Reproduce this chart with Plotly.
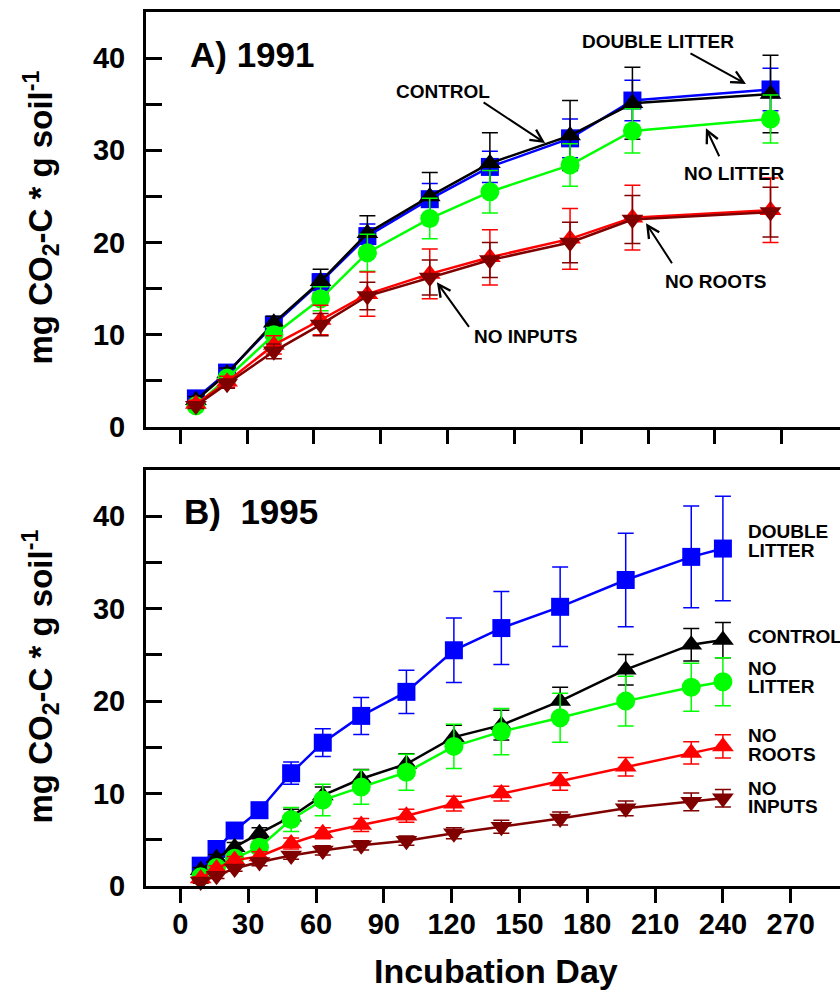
import plotly.graph_objects as go

FONT = "Liberation Sans, Arial, Helvetica, sans-serif"

# ---- A) 1991 incubation: cumulative CO2-C (mg per g soil) ----
days_1991 = [7, 21, 42, 63, 84, 112, 139, 175, 203, 265]
double_litter_1991 = [3.1, 5.9, 11.1, 15.7, 20.7, 24.7, 28.2, 31.3, 35.4, 36.6]
double_litter_1991_err = [0.4, 0.5, 0.6, 0.9, 1.3, 1.7, 1.7, 2.1, 2.2, 2.3]
control_1991 = [2.9, 5.8, 11.3, 15.8, 21.0, 25.0, 28.6, 31.6, 35.1, 36.1]
control_1991_err = [0.4, 0.6, 0.7, 1.3, 1.9, 2.6, 3.3, 3.8, 3.9, 4.2]
no_litter_1991 = [2.3, 5.3, 10.0, 13.9, 18.9, 22.6, 25.5, 28.4, 32.1, 33.4]
no_litter_1991_err = [0.4, 0.5, 0.8, 1.3, 2.0, 2.2, 2.3, 2.3, 2.4, 2.6]
no_roots_1991 = [2.5, 4.9, 8.9, 11.6, 14.4, 16.6, 18.4, 20.4, 22.7, 23.5]
no_roots_1991_err = [0.4, 0.6, 1.0, 1.6, 2.4, 2.7, 3.0, 3.3, 3.5, 3.5]
no_inputs_1991 = [2.3, 4.7, 8.2, 11.1, 14.2, 16.2, 18.1, 20.0, 22.5, 23.3]
no_inputs_1991_err = [0.3, 0.5, 0.8, 1.2, 1.5, 1.9, 1.9, 2.2, 2.6, 2.7]

# ---- B) 1995 incubation ----
days_1995 = [9, 16, 24, 35, 49, 63, 80, 100, 121, 142, 168, 197, 226, 240]
double_litter_1995 = [2.2, 4.0, 6.0, 8.2, 12.2, 15.5, 18.4, 21.0, 25.5, 27.9, 30.2, 33.1, 35.6, 36.5]
double_litter_1995_err = [0.5, 0.6, 0.7, 0.8, 1.2, 1.5, 2.0, 2.35, 3.5, 3.95, 4.3, 5.05, 5.5, 5.65]
control_1995 = [1.7, 3.0, 4.2, 5.7, 7.5, 9.8, 11.6, 13.2, 16.1, 17.4, 20.0, 23.4, 26.1, 26.6]
control_1995_err = [0.3, 0.4, 0.5, 0.6, 0.8, 0.9, 1.0, 1.1, 1.3, 1.6, 1.5, 1.65, 1.75, 1.9]
no_litter_1995 = [1.0, 2.0, 3.0, 4.2, 7.2, 9.3, 10.7, 12.3, 15.1, 16.7, 18.2, 20.0, 21.5, 22.1]
no_litter_1995_err = [0.3, 0.4, 0.5, 0.6, 1.3, 1.7, 1.85, 1.95, 2.4, 2.5, 2.65, 2.7, 2.6, 2.6]
no_roots_1995 = [0.8, 1.9, 2.8, 3.2, 4.6, 5.7, 6.6, 7.6, 8.9, 10.0, 11.3, 12.9, 14.4, 15.1]
no_roots_1995_err = [0.2, 0.3, 0.4, 0.5, 0.6, 0.6, 0.7, 0.7, 0.8, 0.8, 0.95, 1.0, 1.2, 1.25]
no_inputs_1995 = [0.5, 1.1, 1.9, 2.6, 3.3, 3.85, 4.4, 4.9, 5.7, 6.4, 7.3, 8.4, 9.1, 9.5]
no_inputs_1995_err = [0.2, 0.3, 0.3, 0.4, 0.4, 0.5, 0.5, 0.5, 0.6, 0.7, 0.7, 0.8, 0.95, 0.95]

day_ticks = list(range(0, 271, 30))

BLUE = "#0000ff"
BLACK = "#000000"
GREEN = "#00ff00"
RED = "#ff0000"
DARKRED = "#800000"

treatments = [
    # name, colour, symbol, marker size
    ("Double litter", BLUE, "square", 18),
    ("Control", BLACK, "triangle-up", 19),
    ("No litter", GREEN, "circle", 19),
    ("No roots", RED, "triangle-up", 19),
    ("No inputs", DARKRED, "triangle-down", 19),
]

panels = [
    ("x", "y", days_1991,
     [(double_litter_1991, double_litter_1991_err), (control_1991, control_1991_err),
      (no_litter_1991, no_litter_1991_err), (no_roots_1991, no_roots_1991_err),
      (no_inputs_1991, no_inputs_1991_err)]),
    ("x2", "y2", days_1995,
     [(double_litter_1995, double_litter_1995_err), (control_1995, control_1995_err),
      (no_litter_1995, no_litter_1995_err), (no_roots_1995, no_roots_1995_err),
      (no_inputs_1995, no_inputs_1995_err)]),
]

fig = go.Figure()
for xa, ya, days, series in panels:
    for (name, color, symbol, size), (vals, errs) in zip(treatments, series):
        fig.add_trace(go.Scatter(
            x=days, y=vals, xaxis=xa, yaxis=ya, name=name,
            mode="lines+markers", cliponaxis=False, showlegend=False,
            line=dict(color=color, width=2.5),
            marker=dict(color=color, symbol=symbol, size=size, line=dict(width=0)),
            error_y=dict(type="data", array=errs, visible=True,
                         color=color, thickness=1.5, width=8),
        ))

tick_font = dict(family=FONT, size=29, color="black", weight="bold")


def y_axis(domain):
    return dict(
        domain=domain, range=[0, 45], tick0=0, dtick=10,
        ticks="inside", ticklen=16, tickwidth=3, tickcolor="black",
        showline=True, linewidth=3, linecolor="black", mirror=False,
        showgrid=False, zeroline=False, tickfont=tick_font,
        ticklabelstandoff=12,
        minor=dict(tick0=0, dtick=5, ticks="inside", ticklen=16,
                   tickwidth=3, tickcolor="black", showgrid=False),
    )


def right_ticks(over, anchor):
    return dict(
        overlaying=over, anchor=anchor, side="right", range=[0, 45],
        tick0=0, dtick=10, ticks="inside", ticklen=8, tickwidth=3,
        tickcolor="black", showticklabels=False, showline=False,
        showgrid=False, zeroline=False,
        minor=dict(tick0=0, dtick=5, ticks="inside", ticklen=3,
                   tickwidth=3, tickcolor="black", showgrid=False),
    )


def x_axis(rng, anchor, labels):
    return dict(
        anchor=anchor, domain=[0, 1], range=rng,
        tickmode="array", tickvals=day_ticks,
        ticks="outside", ticklen=14, tickwidth=3, tickcolor="black",
        showline=True, linewidth=3, linecolor="black", mirror=True,
        showgrid=False, zeroline=False, showticklabels=labels,
        tickfont=tick_font, ticklabelstandoff=-4,
    )


fig.update_layout(
    width=840, height=990,
    margin=dict(l=146, r=0, t=12, b=104),
    paper_bgcolor="white", plot_bgcolor="white",
    xaxis=x_axis([-15.4, 296.2], "y", False),
    yaxis=y_axis([0.5252, 1.0]),
    xaxis2=x_axis([-15.2, 291.8], "y2", True),
    yaxis2=y_axis([0.0, 0.476]),
    yaxis3=right_ticks("y", "x"),
    yaxis4=right_ticks("y2", "x2"),
)

annotations = []


def label(text, x, y, xref, yref, xanchor="center", size=19):
    annotations.append(dict(
        text=text, x=x, y=y, xref=xref, yref=yref, xanchor=xanchor,
        yanchor="middle", showarrow=False,
        font=dict(family=FONT, size=size, color="black", weight="bold"),
    ))


def arrow(head, tail, xref, yref):
    annotations.append(dict(
        text="", x=head[0], y=head[1], ax=tail[0], ay=tail[1],
        xref=xref, yref=yref, axref=xref, ayref=yref,
        showarrow=True, arrowhead=5, arrowsize=1.2, arrowwidth=2,
        arrowcolor="black",
    ))


# panel captions
label("A) 1991", 3.4, 40.4, "x", "y", "left", 35)
label("B)\u00a0 1995", 0.7, 40.5, "x2", "y2", "left", 35)

# 1991 treatment labels with pointers
label("DOUBLE LITTER", 214.5, 41.8, "x", "y")
arrow((254.0, 37.2), (228.4, 40.6), "x", "y")
label("CONTROL", 117.9, 36.4, "x", "y")
arrow((163.8, 30.8), (135.5, 35.3), "x", "y")
label("NO LITTER", 248.8, 27.5, "x", "y")
arrow((236.0, 32.4), (242.3, 29.2), "x", "y")
label("NO ROOTS", 240.4, 15.8, "x", "y")
arrow((209.1, 22.1), (221.2, 17.6), "x", "y")
label("NO INPUTS", 154.8, 9.8, "x", "y")
arrow((115.2, 15.7), (130.1, 10.7), "x", "y")

# 1995 treatment labels at the line ends
for text, yv in [("DOUBLE", 38.3), ("LITTER", 36.24), ("CONTROL", 27.04),
                 ("NO", 23.58), ("LITTER", 21.53), ("NO", 16.23),
                 ("ROOTS", 14.17), ("NO", 10.6), ("INPUTS", 8.55)]:
    label(text, 250.1, yv, "x2", "y2", "left")

# axis titles
y_title = "mg CO<sub>2</sub>-C * g soil<sup>-1</sup>"
for yp in (0.7649, 0.2397):
    annotations.append(dict(
        text=y_title, x=-0.1513, y=yp, xref="paper", yref="paper",
        xanchor="center", yanchor="middle", textangle=-90, showarrow=False,
        font=dict(family=FONT, size=33, color="black", weight="bold"),
    ))
annotations.append(dict(
    text="Incubation Day", x=0.5043, y=-0.0975, xref="paper", yref="paper",
    xanchor="center", yanchor="middle", showarrow=False,
    font=dict(family=FONT, size=34, color="black", weight="bold"),
))

fig.update_layout(annotations=annotations)
fig.write_html("out.html")
